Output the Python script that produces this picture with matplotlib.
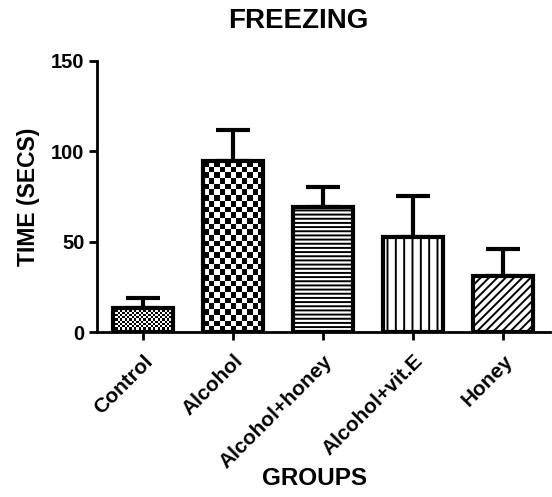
import matplotlib
matplotlib.use('Agg')
import matplotlib.pyplot as plt
import numpy as np

# --- DATA ---
groups = ["Control", "Alcohol", "Alcohol+honey", "Alcohol+vit.E", "Honey"]
means = [13.5, 94.5, 69, 52.5, 31]
err_up = [5.5, 17.5, 11, 23, 15]
patterns = ["check_fine", "check", "----", "||", "////"]

plt.rcParams['font.family'] = ['Liberation Sans', 'DejaVu Sans']
plt.rcParams['font.weight'] = 'bold'
plt.rcParams['hatch.linewidth'] = 1.4

W, H = 552, 497
fig = plt.figure(figsize=(W / 100, H / 100), dpi=100)
ax = fig.add_axes([97 / W, 1 - 332 / H, (550 - 97) / W, (332 - 61) / H])

XLIM = (-0.51, 4.52)
x = np.arange(len(groups))
bars = ax.bar(x, means, width=0.67, color='white', edgecolor='black',
              linewidth=3, zorder=3)
ax.errorbar(x, means, yerr=[np.zeros(len(means)), err_up], fmt='none',
            ecolor='black', elinewidth=3, capsize=12, capthick=3, zorder=2)

ax.set_xlim(*XLIM)
ax.set_ylim(0, 150)

# pixels per data unit, used for checker textures
px_x = (550 - 97) / (XLIM[1] - XLIM[0])
px_y = (332 - 61) / 150

for b, pat in zip(bars, patterns):
    if pat.startswith("check"):
        cell = 2.3 if pat == "check_fine" else 5.6
        x0, w, h = b.get_x(), b.get_width(), b.get_height()
        nx = max(1, int(round(w * px_x / cell)))
        ny = max(1, int(round(h * px_y / cell)))
        board = (np.add.outer(np.arange(ny), np.arange(nx)) % 2).astype(float)
        b.set_facecolor('none')
        im = ax.imshow(board, cmap='gray', extent=(x0, x0 + w, 0, h),
                       interpolation='nearest', aspect='auto', zorder=2.5,
                       vmin=0, vmax=1)
        im.set_clip_path(b)
    else:
        b.set_hatch(pat)

ax.set_aspect('auto')
ax.set_xlim(*XLIM)
ax.set_ylim(0, 150)

for side in ['top', 'right']:
    ax.spines[side].set_visible(False)
for side in ['left', 'bottom']:
    ax.spines[side].set_linewidth(2)

ax.set_yticks([0, 50, 100, 150])
ax.set_xticks(x)
ax.set_xticklabels(groups, rotation=45, ha='right', rotation_mode='anchor')
ax.tick_params(axis='both', length=6, width=2, labelsize=14.5, pad=3)
ax.tick_params(axis='x', pad=8, labelsize=15)
for lbl in ax.get_xticklabels() + ax.get_yticklabels():
    lbl.set_fontweight('bold')

ax.set_ylabel("TIME (SECS)", fontsize=16.5, fontweight='bold', labelpad=8)
ax.set_xlabel("GROUPS", fontsize=17.5, fontweight='bold', va='top')
ax.xaxis.set_label_coords(0.48, (332 - 467) / 271)
fig.text(298 / W, 1 - 28 / H, "FREEZING", fontsize=20, fontweight='bold',
         ha='center', va='baseline')

fig.savefig("out.png", dpi=100)
